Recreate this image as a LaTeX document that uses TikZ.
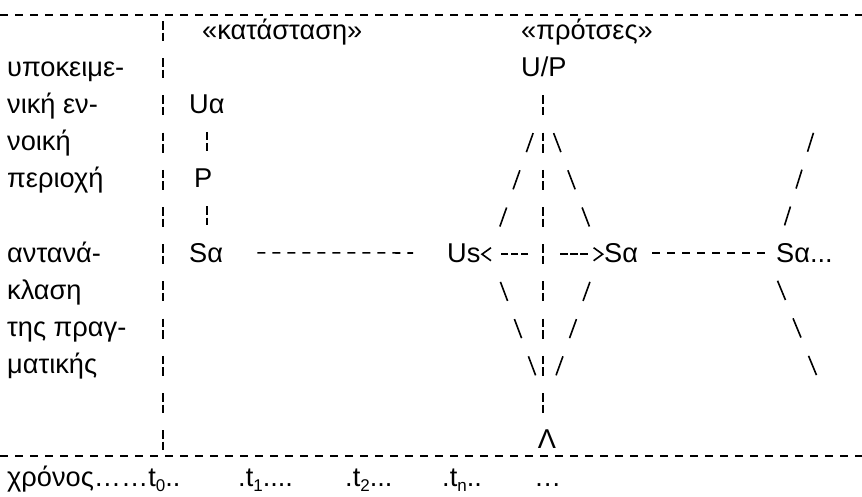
\documentclass[tikz,border=0pt]{standalone}
\usepackage{fontspec}
\setmainfont{Liberation Sans}
\usetikzlibrary{calc,arrows.meta}
\newcommand\tsub[1]{\raisebox{-5pt}{\fontsize{17}{19}\selectfont #1}}

\begin{document}
\begin{tikzpicture}[
        x = 1pt, y = -1pt,
      txt/.style = {inner sep=0pt, anchor=base west, font=\fontsize{27.2}{31}\selectfont},
     ctxt/.style = {inner sep=0pt, anchor=base, font=\fontsize{27.2}{31}\selectfont},
      ink/.style = {line width=1.6pt},
     rule/.style = {ink, dash pattern=on 8pt off 7pt},
     bbar/.style = {ink, dash pattern=on 8.5pt off 3pt on 8.5pt off 17.2pt},
     hyph/.style = {ink, dash pattern=on 7.5pt off 2.5pt on 7.5pt off 2.5pt on 7.5pt off 60pt},
      tip/.style = {-{Straight Barb[length=9pt,width=13pt]}}
                    ]
\useasboundingbox (0,0) rectangle (862,496);
\node (l1)[txt] at (7,76.2)  {υποκειμε-};
\node (l2)[txt] at (7,113.4) {νική εν-};
\node (l3)[txt] at (7,150.6) {νοική};
\node (l4)[txt] at (7,187.8) {περιοχή};
\node (l5)[txt] at (7,262.2) {αντανά-};
\node (l6)[txt] at (7,299.4) {κλαση};
\node (l7)[txt] at (7,336.6) {της πραγ-};
\node (l8)[txt] at (7,373.8) {ματικής};
\node (state)[txt] at (202,39) {«κατάσταση»};
\node (prop) [txt] at (521,39) {«πρότσες»};
\node (up)   [txt] at (521,76.2)  {U/P};
\node (ua)   [txt] at (189,113.4) {Uα};
\node (p)    [txt] at (194,187.8) {P};
\node (sa)   [txt] at (189,262.2) {Sα};
\node (us)   [txt] at (447,262.2) {Us};
\node (sb)   [txt] at (604,262.2) {Sα};
\node (sc)   [txt] at (776,262.2) {Sα...};
\node (lam)  [ctxt] at (547,448.2) {Λ};
\node (time) [txt] at (7,486)   {χρόνος……t\tsub{0}..};
\node (t1)   [txt] at (238,486) {.t\tsub{1}....};
\node (t2)   [txt] at (345,486) {.t\tsub{2}...};
\node (tn)   [txt] at (442,486) {.t\tsub{n}..};
\node (tx)   [txt] at (534,486) {…};
\coordinate (top) at (543,105.4);
\coordinate (mid) at (543,254.2);
\coordinate (bot) at (546,403);
\coordinate (lt)  at (490,254.2);
\coordinate (rt)  at (600,254.2);
\coordinate (fr1) at (822,105.4);
\coordinate (fr2) at (828,403);
\coordinate (sc0) at ($(sc.west)+(-10,0)$);
% frame
\draw[rule] (0,15) -- (862,15);
\draw[rule] (0,456) -- (862,456);
\draw[bbar] (163,21) -- (163,452);
% axis
\draw[bbar] ($(top)+(0,-10)$) -- ($(top |- bot)+(0,10)$);
\draw[bbar, shorten <=18pt, shorten >=18pt] (ua.south) -- (ua.south |- p.north);
\draw[bbar, shorten <=18pt, shorten >=18pt] (ua.south |- p.south) -- (ua.south |- sa.north);
\draw[hyph, tip, shorten <=15pt] (mid) -- (mid -| us.east);
\draw[hyph, tip, shorten <=17pt] (mid) -- (mid -| sb.west);
\draw[rule, shorten <=34pt, shorten >=34pt] (sa.east) -- (us.west);
\draw[rule, shorten <=14pt, shorten >=9pt] (sb.east) -- (sc.west);
\foreach \a/\b in {top/lt, top/rt, lt/bot, rt/bot, fr1/sc.west, sc0/fr2}
  \foreach \t in {.25,.5,.75} {
    \pgfmathsetmacro\ta{\t-.064}
    \pgfmathsetmacro\tb{\t+.064}
    \draw[ink] ($(\a)!\ta!(\b)$) -- ($(\a)!\tb!(\b)$);
  }
\end{tikzpicture}
\end{document}
